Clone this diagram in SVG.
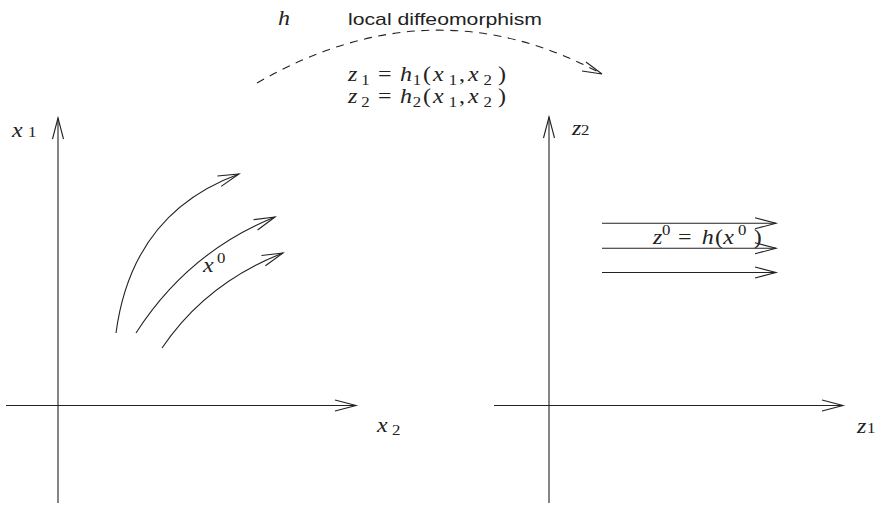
<svg xmlns="http://www.w3.org/2000/svg" width="876" height="505" viewBox="0 0 876 505">
<defs>
<style>
.ln{fill:none;stroke:#222;stroke-width:1.1}
.dash{fill:none;stroke:#222;stroke-width:1.1;stroke-dasharray:8 6.5}
.m{font-family:"Liberation Serif","DejaVu Serif",serif;font-size:20px;fill:#222}
.i{font-style:italic}
.s{font-size:14px;font-style:normal}
.sans{font-family:"Liberation Sans",Arial,sans-serif;font-size:17px;fill:#222}
</style>
<marker id="ah" markerUnits="userSpaceOnUse" markerWidth="26" markerHeight="16" viewBox="-23 -8 26 16" refX="0" refY="0" orient="auto" overflow="visible">
<path d="M-21,-5.5 L0,0 L-21,5.5" fill="none" stroke="#222" stroke-width="1.1"/>
</marker>
</defs>
<rect width="876" height="505" fill="#fff"/>

<g id="map-label">
<text class="m i" transform="translate(278,25) scale(1.2,1)" x="0" y="0">h</text>
<text class="sans" x="348" y="25" textLength="194" lengthAdjust="spacingAndGlyphs">local diffeomorphism</text>
<text class="m" transform="translate(348,81) scale(1.2,1)"><tspan class="i" x="0" y="0">z</tspan><tspan class="s" x="11" y="4">1</tspan><tspan x="25" y="0">=</tspan><tspan class="i" x="43.3" y="0">h</tspan><tspan class="s" x="54" y="4">1</tspan><tspan x="62.5" y="0">(</tspan><tspan class="i" x="70.8" y="0">x</tspan><tspan class="s" x="84" y="4">1</tspan><tspan x="92.5" y="0">,</tspan><tspan class="i" x="100" y="0">x</tspan><tspan class="s" x="113" y="4">2</tspan><tspan x="125" y="0">)</tspan></text>
<text class="m" transform="translate(348,103) scale(1.2,1)"><tspan class="i" x="0" y="0">z</tspan><tspan class="s" x="11" y="4">2</tspan><tspan x="25" y="0">=</tspan><tspan class="i" x="43.3" y="0">h</tspan><tspan class="s" x="54" y="4">2</tspan><tspan x="62.5" y="0">(</tspan><tspan class="i" x="70.8" y="0">x</tspan><tspan class="s" x="84" y="4">1</tspan><tspan x="92.5" y="0">,</tspan><tspan class="i" x="100" y="0">x</tspan><tspan class="s" x="113" y="4">2</tspan><tspan x="125" y="0">)</tspan></text>
</g>

<g id="x-plane">
<text class="m i" transform="translate(12,137) scale(1.2,1)"><tspan x="0" y="0">x</tspan><tspan class="s" x="13.3" y="0">1</tspan></text>
<text class="m i" transform="translate(377,432) scale(1.2,1)"><tspan x="0" y="0">x</tspan><tspan class="s" x="12.5" y="3">2</tspan></text>
<text class="m i" transform="translate(203,272) scale(1.2,1)"><tspan x="0" y="0">x</tspan><tspan class="s" x="11.7" y="-9">0</tspan></text>
</g>

<g id="z-plane">
<text class="m i" transform="translate(572,135) scale(1.2,1)"><tspan x="0" y="0">z</tspan><tspan class="s" x="7.5" y="0">2</tspan></text>
<text class="m i" transform="translate(857,433) scale(1.2,1)"><tspan x="0" y="0">z</tspan><tspan class="s" x="8.3" y="0">1</tspan></text>
<text class="m" transform="translate(653,244) scale(1.2,1)"><tspan class="i" x="0" y="0">z</tspan><tspan class="s" x="7.5" y="-9">0</tspan><tspan x="20.8" y="0">=</tspan><tspan class="i" x="40.6" y="0">h</tspan><tspan x="51.7" y="0">(</tspan><tspan class="i" x="58.6" y="0">x</tspan><tspan class="s" x="70.8" y="-9">0</tspan><tspan x="84" y="0">)</tspan></text>
</g>

<g id="connectors">
<line class="ln" x1="58" y1="503" x2="58" y2="118" marker-end="url(#ah)"/>
<line class="ln" x1="6" y1="405.5" x2="356" y2="405.5" marker-end="url(#ah)"/>
<line class="ln" x1="549" y1="503" x2="549" y2="117" marker-end="url(#ah)"/>
<line class="ln" x1="494" y1="405.5" x2="843" y2="405.5" marker-end="url(#ah)"/>
<path class="ln" d="M116,333 Q132,213 239,174" marker-end="url(#ah)"/>
<path class="ln" d="M136,333 Q188,252 275,217" marker-end="url(#ah)"/>
<path class="ln" d="M162,348 Q206,283 283,253" marker-end="url(#ah)"/>
<line class="ln" x1="602" y1="223.3" x2="776" y2="223.3" marker-end="url(#ah)"/>
<line class="ln" x1="602" y1="248.3" x2="776" y2="248.3" marker-end="url(#ah)"/>
<line class="ln" x1="602" y1="272.5" x2="776" y2="272.5" marker-end="url(#ah)"/>
<path class="dash" d="M257,83 Q432,-18 602,74"/>
<path class="ln" d="M586,62 L602,74 L582,71"/>
</g>
</svg>
